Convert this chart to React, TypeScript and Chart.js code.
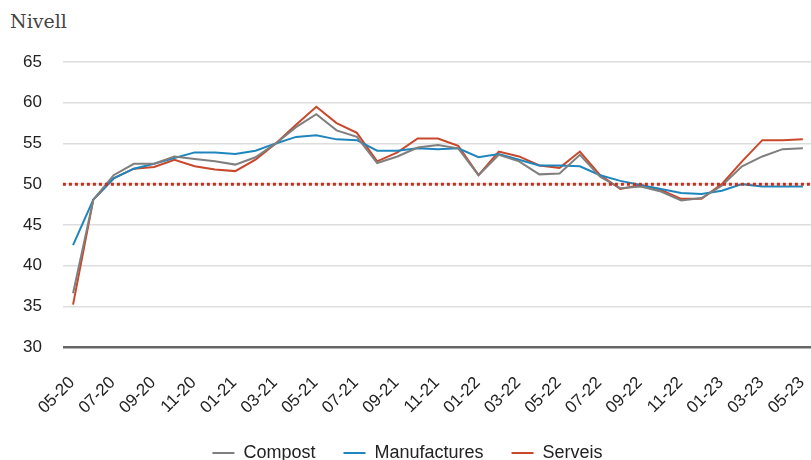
import React, { useEffect, useRef } from "react";
import { Chart, registerables } from "chart.js";

Chart.register(...registerables);

const months: string[] = [
  "05-20", "06-20", "07-20", "08-20", "09-20", "10-20", "11-20", "12-20",
  "01-21", "02-21", "03-21", "04-21", "05-21", "06-21", "07-21", "08-21",
  "09-21", "10-21", "11-21", "12-21", "01-22", "02-22", "03-22", "04-22",
  "05-22", "06-22", "07-22", "08-22", "09-22", "10-22", "11-22", "12-22",
  "01-23", "02-23", "03-23", "04-23", "05-23",
];

const compost: number[] = [
  36.6, 48.1, 51.1, 52.5, 52.5, 53.4, 53.1, 52.8, 52.4, 53.3, 55.0, 57.0,
  58.6, 56.6, 55.8, 52.6, 53.4, 54.5, 54.8, 54.4, 51.1, 53.6, 52.8, 51.2,
  51.3, 53.6, 50.9, 49.5, 49.7, 49.1, 48.0, 48.3, 49.8, 52.2, 53.4, 54.3, 54.4,
];

const manufactures: number[] = [
  42.5, 48.1, 50.7, 51.9, 52.5, 53.2, 53.9, 53.9, 53.7, 54.1, 55.0, 55.8,
  56.0, 55.5, 55.4, 54.1, 54.1, 54.4, 54.3, 54.4, 53.3, 53.7, 53.0, 52.3,
  52.3, 52.2, 51.1, 50.4, 49.9, 49.4, 48.9, 48.8, 49.2, 50.0, 49.7, 49.7, 49.7,
];

const serveis: number[] = [
  35.2, 48.1, 50.7, 51.9, 52.1, 53.0, 52.2, 51.8, 51.6, 53.0, 55.0, 57.3,
  59.5, 57.5, 56.3, 52.8, 53.9, 55.6, 55.6, 54.7, 51.1, 54.0, 53.4, 52.3,
  52.0, 54.0, 51.1, 49.4, 49.9, 49.3, 48.2, 48.2, 50.0, 52.8, 55.4, 55.4, 55.5,
];

const seriesNames: string[] = ["Compost", "Manufactures", "Serveis"];
const seriesColors: string[] = ["#7f7f7f", "#1f86bd", "#c9472a"];
const threshold = 50;
const yTicks: number[] = [30, 35, 40, 45, 50, 55, 60, 65];

const FONT = "'Liberation Sans', Arial, sans-serif";

const thresholdPlugin = {
  id: "thresholdLine",
  afterDatasetsDraw(chart: any) {
    const { ctx, chartArea, scales } = chart;
    const y = scales.y.getPixelForValue(threshold);
    ctx.save();
    ctx.strokeStyle = "#c0321e";
    ctx.lineWidth = 3;
    ctx.setLineDash([3, 3]);
    ctx.beginPath();
    ctx.moveTo(chartArea.left, y);
    ctx.lineTo(chartArea.right, y);
    ctx.stroke();
    ctx.restore();
  },
};

const xLabelPlugin = {
  id: "xLabels",
  afterDraw(chart: any) {
    const { ctx, scales } = chart;
    const xs = scales.x;
    ctx.save();
    ctx.font = `17px ${FONT}`;
    ctx.fillStyle = "#222";
    ctx.textAlign = "right";
    ctx.textBaseline = "top";
    months.forEach((m, i) => {
      if (i % 2 !== 0) return;
      const x = xs.getPixelForValue(i);
      ctx.save();
      ctx.translate(x - 7, xs.top + 27);
      ctx.rotate(-Math.PI / 4);
      ctx.fillText(m, 0, 0);
      ctx.restore();
    });
    ctx.restore();
  },
};

export default function App() {
  const canvasRef = useRef<HTMLCanvasElement | null>(null);

  useEffect(() => {
    document.body.style.margin = "0";
    const canvas = canvasRef.current;
    if (!canvas) return;
    const data = [compost, manufactures, serveis];
    const chart = new Chart(canvas, {
      type: "line",
      data: {
        labels: months,
        datasets: seriesNames.map((name, i) => ({
          label: name,
          data: data[i],
          borderColor: seriesColors[i],
          backgroundColor: seriesColors[i],
          borderWidth: 2,
          pointRadius: 0,
          tension: 0,
        })),
      },
      options: {
        animation: false,
        responsive: false,
        maintainAspectRatio: false,
        layout: { padding: { top: 22, left: 2, right: 0, bottom: 0 } },
        plugins: {
          legend: {
            position: "bottom",
            labels: {
              font: { family: FONT, size: 18 },
              color: "#222",
              boxWidth: 22,
              boxHeight: 2,
              padding: 28,
              generateLabels: (c: any) =>
                Chart.defaults.plugins.legend.labels
                  .generateLabels(c)
                  .map((l: any) => ({ ...l, lineWidth: 0 })),
            },
          },
          tooltip: { enabled: false },
        },
        scales: {
          x: {
            offset: true,
            grid: { display: false, drawTicks: false },
            border: { display: false },
            afterFit: (axis: any) => {
              axis.paddingLeft = 0;
              axis.paddingRight = 0;
              axis.height = 69;
            },
            ticks: { display: false },
          },
          y: {
            min: 30,
            max: 65,
            afterBuildTicks: (axis: any) => {
              axis.ticks = yTicks.map((v) => ({ value: v }));
            },
            afterFit: (axis: any) => {
              axis.paddingTop = 0;
              axis.paddingBottom = 0;
            },
            grid: {
              drawTicks: false,
              lineWidth: (c: any) => (c.tick && c.tick.value === 30 ? 2.5 : 1.5),
              color: (c: any) => (c.tick && c.tick.value === 30 ? "#666666" : "#dddddd"),
            },
            border: { display: false },
            ticks: {
              padding: 21,
              color: "#222",
              font: { family: FONT, size: 17 },
            },
          },
        },
      },
      plugins: [thresholdPlugin, xLabelPlugin],
    });
    return () => chart.destroy();
  }, []);

  return (
    <div style={{ position: "relative", width: 811, height: 460, overflow: "hidden", background: "#fff" }}>
      <div
        style={{
          position: "absolute",
          left: 10,
          top: 10,
          fontFamily: "'DejaVu Serif', 'Liberation Serif', serif",
          fontSize: 19,
          color: "#444",
        }}
      >
        Nivell
      </div>
      <canvas
        ref={canvasRef}
        width={813}
        height={432}
        style={{ position: "absolute", left: 0, top: 40, width: 813, height: 432 }}
      />
    </div>
  );
}
